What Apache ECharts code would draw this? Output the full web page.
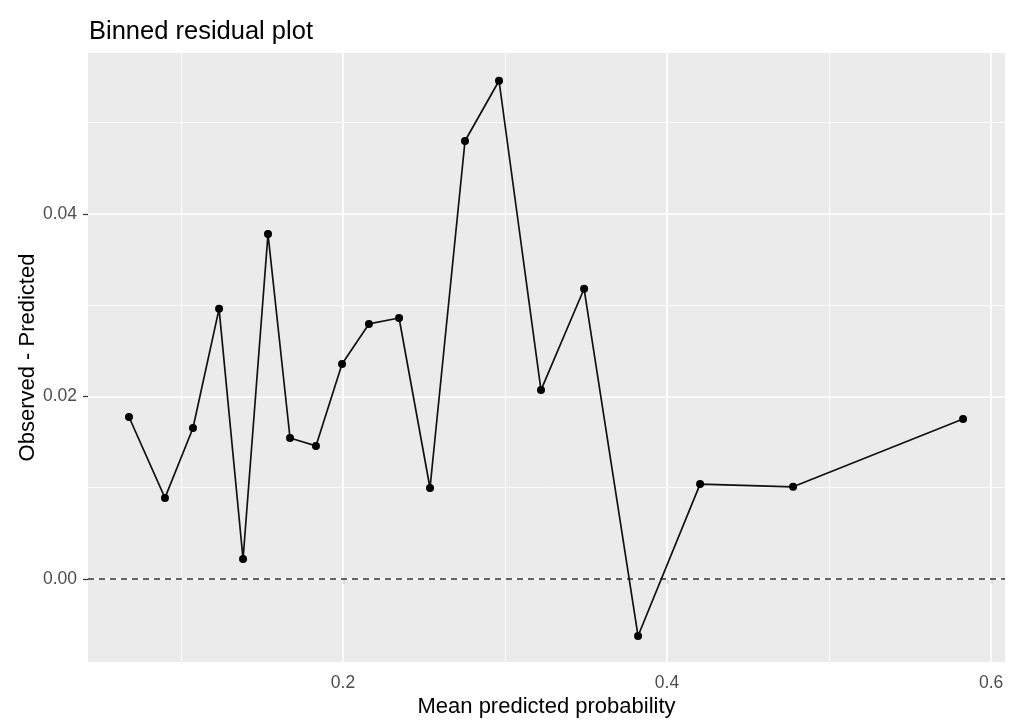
<!DOCTYPE html>
<html>
<head>
<meta charset="utf-8">
<script src="https://cdn.jsdelivr.net/npm/echarts@6/dist/echarts.min.js"></script>
<style>
html,body{margin:0;padding:0;background:#fff;}
#chart{width:1024px;height:727px;}
</style>
</head>
<body>
<div id="chart"></div>
<script>
// binned residuals
var binX = [0.0679,0.0901,0.1074,0.1235,0.1383,0.1537,0.1673,0.1833,0.1994,0.2160,
            0.2346,0.2537,0.2753,0.2963,0.3222,0.3488,0.3821,0.4204,0.4778,0.5827];
var binY = [0.01775,0.00888,0.01655,0.0296,0.00219,0.0378,0.01545,0.01458,0.02356,0.02795,
            0.0286,0.00997,0.0480,0.0546,0.0207,0.0318,-0.00625,0.0104,0.0101,0.01753];

// ticks and grid lines
var xMajor = [0.2, 0.4, 0.6];
var xMinor = [0.1, 0.3, 0.5];
var yMajor = [0.00, 0.02, 0.04];
var yMinor = [0.01, 0.03, 0.05];
var refLine = [0];

var pts = [];
for (var i = 0; i < binX.length; i++) pts.push([binX[i], binY[i]]);

function gridLines(vals, key, width) {
	var out = [];
	for (var i = 0; i < vals.length; i++) {
		var o = {};
		o[key] = vals[i];
		o.lineStyle = {color: '#ffffff', width: width, type: 'solid'};
		out.push(o);
	}
	return out;
}

var font = '"Liberation Sans", Arial, sans-serif';
var myChart = echarts.init(document.getElementById('chart'));
var option = {
	animation: false,
	backgroundColor: '#ffffff',
	title: {
		text: 'Binned residual plot',
		left: 84,
		top: 14,
		textStyle: {fontFamily: font, fontSize: 25.5, fontWeight: 'normal', color: '#000'}
	},
	grid: {
		left: 88, right: 19, top: 53, bottom: 65,
		show: true, backgroundColor: '#EBEBEB', borderWidth: 0
	},
	xAxis: {
		type: 'value',
		min: 0.0426, max: 0.6086,
		name: 'Mean predicted probability',
		nameLocation: 'middle',
		nameGap: 34,
		nameMoveOverlap: false,
		nameTextStyle: {fontFamily: font, fontSize: 22, color: '#000'},
		axisLine: {show: false},
		axisTick: {show: true, customValues: xMajor, length: 5, lineStyle: {color: '#333', width: 1.2}},
		axisLabel: {customValues: xMajor, margin: 12, fontFamily: font, fontSize: 17.5, color: '#4D4D4D',
			formatter: function (v) { return v.toFixed(1); }},
		splitLine: {show: false}
	},
	yAxis: {
		type: 'value',
		min: -0.0091, max: 0.05764,
		name: 'Observed - Predicted',
		nameLocation: 'middle',
		nameGap: 49,
		nameMoveOverlap: false,
		nameTextStyle: {fontFamily: font, fontSize: 22, color: '#000'},
		axisLine: {show: false},
		axisTick: {show: true, customValues: yMajor, length: 5, lineStyle: {color: '#333', width: 1.2}},
		axisLabel: {customValues: yMajor, margin: 11, fontFamily: font, fontSize: 17.5, color: '#4D4D4D',
			formatter: function (v) { return v.toFixed(2); }},
		splitLine: {show: false}
	},
	series: [
		{
			// panel grid
			type: 'line',
			data: [],
			silent: true,
			markLine: {
				silent: true, symbol: ['none', 'none'], label: {show: false}, z: 1,
				data: [].concat(
					gridLines(xMinor, 'xAxis', 0.8),
					gridLines(yMinor, 'yAxis', 0.8),
					gridLines(xMajor, 'xAxis', 1.7),
					gridLines(yMajor, 'yAxis', 1.7)
				)
			}
		},
		{
			type: 'line',
			data: pts,
			z: 3,
			symbol: 'circle',
			symbolSize: 8,
			showAllSymbol: true,
			lineStyle: {color: '#111', width: 1.7},
			itemStyle: {color: '#000'},
			markLine: {
				silent: true, symbol: ['none', 'none'], label: {show: false}, z: 2,
				lineStyle: {color: '#333', width: 1.6, type: [6, 5]},
				data: refLine.map(function (v) { return {yAxis: v}; })
			}
		}
	]
};
myChart.setOption(option);
</script>
</body>
</html>
